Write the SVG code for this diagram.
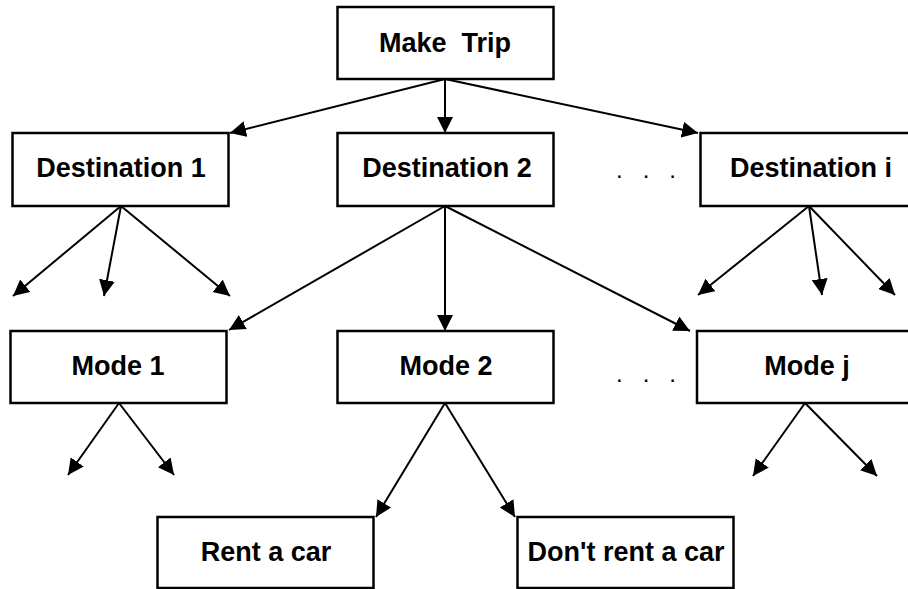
<svg xmlns="http://www.w3.org/2000/svg" width="908" height="589" viewBox="0 0 908 589">
<style>
.box{fill:#fff;stroke:#000;stroke-width:2.5}
.lbl{font-family:"Liberation Sans",Arial,sans-serif;font-weight:bold;font-size:27px;text-anchor:middle;fill:#000}
.dot{font-family:"Liberation Sans",Arial,sans-serif;font-size:24px;text-anchor:middle;fill:#000}
.edge{stroke:#000;stroke-width:2;fill:none;marker-end:url(#ah)}
</style>
<defs>
<marker id="ah" markerUnits="userSpaceOnUse" markerWidth="17" markerHeight="17" refX="16" refY="8" orient="auto">
<path d="M0,0 L16,8 L0,16 z" fill="#000"/>
</marker>
</defs>
<rect width="908" height="589" fill="#fff"/>
<g id="connectors">
<line class="edge" x1="445" y1="79" x2="230" y2="133"/>
<line class="edge" x1="445" y1="79" x2="445" y2="133"/>
<line class="edge" x1="445" y1="79" x2="698" y2="133"/>
<line class="edge" x1="121" y1="206" x2="13" y2="296"/>
<line class="edge" x1="121" y1="206" x2="104" y2="296"/>
<line class="edge" x1="121" y1="206" x2="230" y2="296"/>
<line class="edge" x1="445" y1="206" x2="229" y2="330"/>
<line class="edge" x1="445" y1="206" x2="445" y2="331"/>
<line class="edge" x1="445" y1="206" x2="690" y2="331"/>
<line class="edge" x1="809" y1="206" x2="698" y2="295"/>
<line class="edge" x1="809" y1="206" x2="822" y2="295"/>
<line class="edge" x1="809" y1="206" x2="895" y2="295"/>
<line class="edge" x1="119" y1="403" x2="68" y2="475"/>
<line class="edge" x1="119" y1="403" x2="174" y2="475"/>
<line class="edge" x1="445" y1="403" x2="376" y2="517"/>
<line class="edge" x1="445" y1="403" x2="515" y2="517"/>
<line class="edge" x1="805" y1="403" x2="753" y2="476"/>
<line class="edge" x1="805" y1="403" x2="877" y2="476"/>
</g>
<g id="make-trip"><rect class="box" x="337.5" y="7" width="216" height="72"/><text class="lbl" x="445" y="52" xml:space="preserve">Make  Trip</text></g>
<g id="destination-1"><rect class="box" x="12.5" y="133" width="216" height="73"/><text class="lbl" x="121" y="177">Destination 1</text></g>
<g id="destination-2"><rect class="box" x="337.5" y="133" width="216" height="73"/><text class="lbl" x="447" y="177">Destination 2</text></g>
<g id="destination-i"><rect class="box" x="700.5" y="133" width="216" height="73"/><text class="lbl" x="811" y="177">Destination i</text></g>
<g id="mode-1"><rect class="box" x="10.5" y="331" width="216" height="72"/><text class="lbl" x="118" y="375">Mode 1</text></g>
<g id="mode-2"><rect class="box" x="337.5" y="331" width="216" height="72"/><text class="lbl" x="446" y="375">Mode 2</text></g>
<g id="mode-j"><rect class="box" x="697" y="331" width="216" height="72"/><text class="lbl" x="807" y="375">Mode j</text></g>
<g id="rent-a-car"><rect class="box" x="157.5" y="517" width="216" height="71"/><text class="lbl" x="266" y="561">Rent a car</text></g>
<g id="dont-rent-a-car"><rect class="box" x="517.5" y="517" width="216" height="71"/><text class="lbl" x="626" y="561">Don't rent a car</text></g>
<g id="ellipsis">
<text class="dot" x="646" y="178" xml:space="preserve">.   .   .</text>
<text class="dot" x="646" y="382" xml:space="preserve">.   .   .</text>
</g>
</svg>
